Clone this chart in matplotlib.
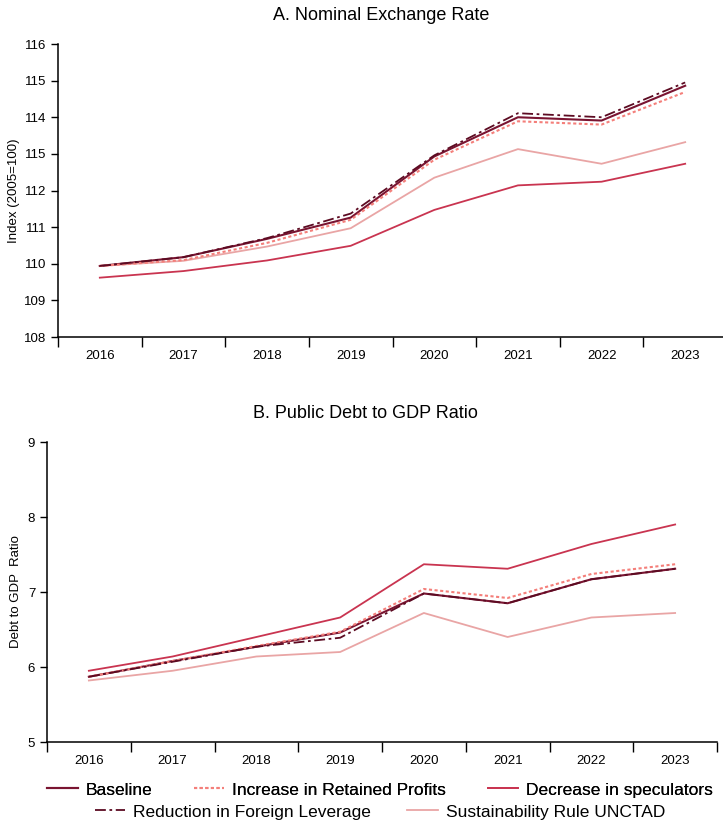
import numpy as np
import matplotlib
matplotlib.use("Agg")
from matplotlib import pyplot as plt
from matplotlib.lines import Line2D

plt.rcParams['font.family'] = ['Liberation Sans', 'DejaVu Sans']

years = ['2016', '2017', '2018', '2019', '2020', '2021', '2022', '2023']

# A. nominal exchange rate
baseline_fx = [109.94, 110.18, 110.68, 111.26, 112.93, 114.00, 113.91, 114.86]
retained_fx = [109.94, 110.10, 110.57, 111.20, 112.84, 113.89, 113.80, 114.69]
speculators_fx = [109.62, 109.80, 110.09, 110.49, 111.47, 112.14, 112.24, 112.73]
leverage_fx = [109.94, 110.18, 110.70, 111.37, 112.96, 114.11, 114.00, 114.95]
unctad_fx = [109.94, 110.08, 110.47, 110.97, 112.35, 113.13, 112.73, 113.32]
fx_ticks = [108, 109, 110, 111, 112, 113, 114, 115, 116]
fx_ticklabels = ['108', '109', '110', '111', '112', '115', '114', '115', '116']

# B. public debt to GDP
baseline_debt = [5.87, 6.08, 6.27, 6.46, 6.98, 6.85, 7.17, 7.31]
retained_debt = [5.87, 6.08, 6.28, 6.47, 7.04, 6.92, 7.24, 7.37]
speculators_debt = [5.95, 6.14, 6.40, 6.66, 7.37, 7.31, 7.64, 7.90]
leverage_debt = [5.87, 6.07, 6.27, 6.39, 6.98, 6.85, 7.17, 7.31]
unctad_debt = [5.82, 5.95, 6.14, 6.20, 6.72, 6.40, 6.66, 6.72]

names = ['Baseline', 'Increase in Retained Profits', 'Decrease in speculators',
         'Reduction in Foreign Leverage', 'Sustainability Rule UNCTAD']
styles = [
    dict(color='#7a1431', lw=1.5, ls='-'),
    dict(color='#f47f7a', lw=1.5, ls=(0, (1.5, 1.2))),
    dict(color='#c93450', lw=1.3, ls='-'),
    dict(color='#5c0b22', lw=1.3, ls=(0, (6, 2, 1.5, 2))),
    dict(color='#e9a5a5', lw=1.3, ls='-'),
]

fig = plt.figure(figsize=(7.23, 8.21), dpi=100)
ax1 = fig.add_axes([58/723, 1-337/821, 669/723, 293/821])
ax2 = fig.add_axes([47/723, 1-742/821, 670/723, 300/821])

x = np.arange(len(years)) + 0.5


def style_axis(ax, ticks, ticklabels, ylabel, pad):
    for s in ['top', 'right']:
        ax.spines[s].set_visible(False)
    ax.set_xlim(0, len(years))
    ax.set_ylim(ticks[0], ticks[-1])
    ax.set_xticks(np.arange(len(years) + 1))
    ax.set_xticklabels([])
    ax.set_xticks(x, minor=True)
    ax.set_xticklabels(years, minor=True, fontsize=9.5)
    ax.tick_params(axis='x', which='major', direction='out', length=7, width=1)
    ax.tick_params(axis='x', which='minor', length=0, pad=9)
    ax.set_yticks(ticks)
    ax.set_yticklabels(ticklabels, fontsize=9.5)
    ax.tick_params(axis='y', direction='out', length=5, width=1)
    ax.set_ylabel(ylabel, fontsize=9.5, labelpad=pad)
    for s in ['left', 'bottom']:
        ax.spines[s].set_linewidth(1.1)


series_fx = [baseline_fx, retained_fx, speculators_fx, leverage_fx, unctad_fx]
series_debt = [baseline_debt, retained_debt, speculators_debt, leverage_debt, unctad_debt]
order = [4, 2, 0, 1, 3]
for i in order:
    ax1.plot(x, series_fx[i], clip_on=False, **styles[i])
    ax2.plot(x, series_debt[i], clip_on=False, **styles[i])

style_axis(ax1, fx_ticks, fx_ticklabels, 'Index (2005=100)', 2.5)
style_axis(ax2, [5, 6, 7, 8, 9], ['5', '6', '7', '8', '9'], 'Debt to GDP  Ratio', 4.5)

fig.text(381/723, 1-16/821, 'A. Nominal Exchange Rate', ha='center', va='center', fontsize=13)
fig.text(365/723, 1-413/821, 'B. Public Debt to GDP Ratio', ha='center', va='center', fontsize=13)

handles = [Line2D([], [], **styles[i]) for i in range(5)]
leg1 = fig.legend(handles[:3], names[:3], loc='center', bbox_to_anchor=(380/723, 1-790/821),
                  ncol=3, frameon=False, fontsize=12.5, handlelength=1.75,
                  handletextpad=0.45, columnspacing=2.4, borderpad=0)
leg2 = fig.legend(handles[3:], names[3:], loc='center', bbox_to_anchor=(380/723, 1-812/821),
                  ncol=2, frameon=False, fontsize=12.5, handlelength=1.75,
                  handletextpad=0.45, columnspacing=2.1, borderpad=0)
fig.add_artist(leg1)

fig.savefig('out.png', dpi=100)
